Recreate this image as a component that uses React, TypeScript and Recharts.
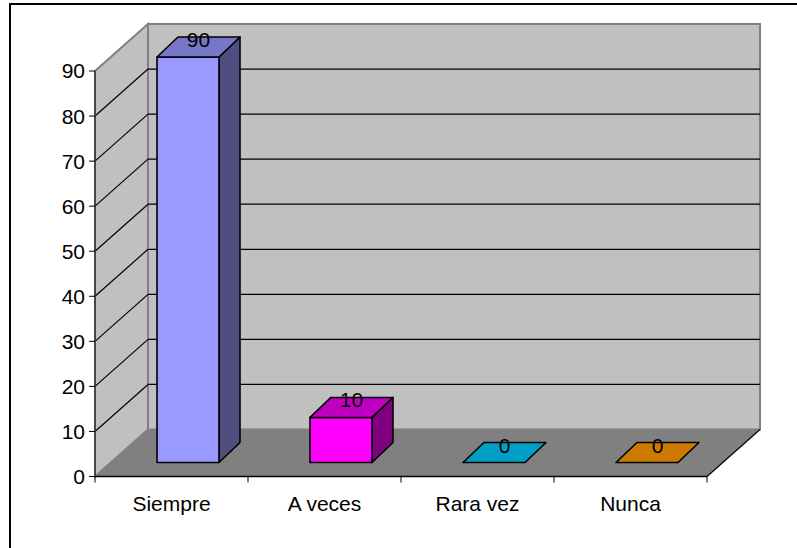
import React from "react";
import { BarChart, Bar, XAxis, YAxis, CartesianGrid } from "recharts";

const categories = ["Siempre", "A veces", "Rara vez", "Nunca"];
const responses = [90, 10, 0, 0];
const yTicks = [0, 10, 20, 30, 40, 50, 60, 70, 80, 90];

const data = categories.map((name, i) => ({ name, value: responses[i] }));

// front / top / side shades for each prism
const palette = [
  { front: "#9999FF", top: "#7777C8", side: "#4E4E80" },
  { front: "#FF00FF", top: "#C000C0", side: "#800080" },
  { front: "#00A0C6", top: "#00A0C6", side: "#005066" },
  { front: "#CC7A00", top: "#CC7A00", side: "#663D00" },
];

const FONT = '"Liberation Sans", Arial, sans-serif';
const FONT_SIZE = 21;

// depth of the floor / walls
const WALL_DX = 53;
const WALL_DY = 47;
// bars sit part way back on the floor and have their own depth
const BAR_OFF_X = 16;
const BAR_OFF_Y = 14;
const BAR_DX = 21;
const BAR_DY = 20;

const X_TICK_SIZE = 6;
const X_TICK_MARGIN = 14;

function pts(list: number[][]) {
  return list.map((p) => `${p[0]},${p[1]}`).join(" ");
}

// walls, floor and gridlines, driven by the y axis tick positions
function WallLine(props: any) {
  const { x, y, width, height, y1, index } = props;
  const bottom = y + height;
  const backY = y1 - WALL_DY;
  const isEdge = Math.abs(y1 - y) < 0.5 || Math.abs(y1 - bottom) < 0.5;
  return (
    <g key={`wall-${index}`}>
      {index === 0 && (
        <g>
          <rect
            x={x + WALL_DX}
            y={y - WALL_DY}
            width={width}
            height={height}
            fill="#C0C0C0"
            stroke="#808080"
            strokeWidth={2}
          />
          <polygon
            points={pts([
              [x, y],
              [x + WALL_DX, y - WALL_DY],
              [x + WALL_DX, bottom - WALL_DY],
              [x, bottom],
            ])}
            fill="#C0C0C0"
            stroke="#808080"
            strokeWidth={2}
          />
          <polygon
            points={pts([
              [x, bottom],
              [x + width, bottom],
              [x + width + WALL_DX, bottom - WALL_DY],
              [x + WALL_DX, bottom - WALL_DY],
            ])}
            fill="#808080"
          />
          <line
            x1={x + width}
            y1={bottom}
            x2={x + width + WALL_DX}
            y2={bottom - WALL_DY}
            stroke="#000"
            strokeWidth={1.2}
          />
        </g>
      )}
      {!isEdge && (
        <line x1={x} y1={y1} x2={x + WALL_DX} y2={backY} stroke="#000" strokeWidth={1.2} />
      )}
      {!isEdge && (
        <line
          x1={x + WALL_DX}
          y1={backY}
          x2={x + width + WALL_DX}
          y2={backY}
          stroke="#000"
          strokeWidth={1.2}
        />
      )}
    </g>
  );
}

function PrismBar(props: any) {
  const { x, y, width, height, index, payload } = props;
  const c = palette[index % palette.length];
  const fx = x + BAR_OFF_X;
  const fy = y - BAR_OFF_Y;
  const h = Math.max(height || 0, 0);
  const stroke = { stroke: "#000", strokeWidth: 1.6, strokeLinejoin: "round" as const };
  return (
    <g>
      {h > 0.5 && (
        <polygon
          points={pts([
            [fx + width, fy],
            [fx + width + BAR_DX, fy - BAR_DY],
            [fx + width + BAR_DX, fy + h - BAR_DY],
            [fx + width, fy + h],
          ])}
          fill={c.side}
          {...stroke}
        />
      )}
      {h > 0.5 && <rect x={fx} y={fy} width={width} height={h} fill={c.front} {...stroke} />}
      <polygon
        points={pts([
          [fx, fy],
          [fx + width, fy],
          [fx + width + BAR_DX, fy - BAR_DY],
          [fx + BAR_DX, fy - BAR_DY],
        ])}
        fill={c.top}
        {...stroke}
      />
      <text
        x={fx + width / 2 + BAR_DX / 2}
        y={fy - 10}
        textAnchor="middle"
        fontSize={FONT_SIZE}
        fontFamily={FONT}
        fill="#000"
      >
        {payload.value}
      </text>
    </g>
  );
}

// category label plus tick marks on the band boundaries
function CategoryTick(props: any) {
  const { x, y, payload, width, visibleTicksCount, index } = props;
  const band = width / visibleTicksCount;
  const axisY = y - X_TICK_SIZE - X_TICK_MARGIN;
  const showTicks = Number.isFinite(band);
  return (
    <g>
      {showTicks && (
        <line x1={x - band / 2} y1={axisY} x2={x - band / 2} y2={axisY + X_TICK_SIZE} stroke="#000" />
      )}
      {showTicks && index === visibleTicksCount - 1 && (
        <line x1={x + band / 2} y1={axisY} x2={x + band / 2} y2={axisY + X_TICK_SIZE} stroke="#000" />
      )}
      <text x={x} y={y} dy="0.71em" textAnchor="middle" fontSize={FONT_SIZE} fontFamily={FONT} fill="#000">
        {payload.value}
      </text>
    </g>
  );
}

export default function App() {
  return (
    <div
      style={{
        position: "absolute",
        left: 0,
        top: 0,
        width: 797,
        height: 548,
        overflow: "hidden",
        background: "#fff",
      }}
    >
      <div
        style={{
          position: "absolute",
          left: 9,
          top: 3,
          width: 820,
          height: 580,
          border: "2px solid #000",
        }}
      />
      <div style={{ position: "absolute", left: 0, top: 0 }}>
        <BarChart
          width={797}
          height={548}
          data={data}
          margin={{ top: 71, right: 90, bottom: 41.5, left: 35 }}
          style={{ fontFamily: FONT }}
        >
          <CartesianGrid vertical={false} horizontal={WallLine} />
          <XAxis
            dataKey="name"
            height={30}
            axisLine={{ stroke: "#000", strokeWidth: 1.5 }}
            tickLine={false}
            tickSize={X_TICK_SIZE}
            tickMargin={X_TICK_MARGIN}
            tick={CategoryTick}
            interval={0}
          />
          <YAxis
            width={60}
            domain={[0, 90]}
            ticks={yTicks}
            interval={0}
            axisLine={{ stroke: "#333", strokeWidth: 1.5 }}
            tickLine={{ stroke: "#000" }}
            tickSize={6}
            tickMargin={4}
            tick={{ fill: "#000", fontSize: FONT_SIZE, fontFamily: FONT }}
          />
          <Bar dataKey="value" barSize={62} shape={PrismBar} isAnimationActive={false} />
        </BarChart>
      </div>
    </div>
  );
}
